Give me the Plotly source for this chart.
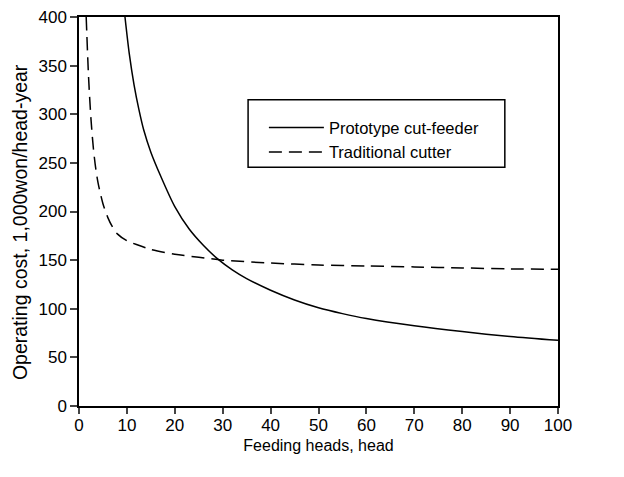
import plotly.graph_objects as go

# Prototype cut-feeder (solid)
proto_x = [9.6, 10.5, 11.5, 12.5, 13.5, 15, 17, 20, 23, 26, 29, 32, 35, 40, 45, 50, 55, 60, 70, 80, 90, 100]
proto_y = [400, 362, 330, 305, 284, 261, 237, 205, 182, 165, 151, 140, 131, 119, 109, 101, 95, 90, 82.5, 76.5, 71.5, 67.5]

# Traditional cutter (dashed)
trad_x = [1.5, 2, 2.5, 3, 3.5, 4, 5, 6, 7, 8, 10, 12, 15, 20, 25, 30, 40, 50, 60, 70, 80, 90, 100]
trad_y = [400, 338, 295, 265, 244, 229, 208, 194, 184, 177, 170, 166, 161, 156, 153, 150, 147, 145, 144, 143, 142, 141, 140.5]

x_ticks = [0, 10, 20, 30, 40, 50, 60, 70, 80, 90, 100]
y_ticks = [0, 50, 100, 150, 200, 250, 300, 350, 400]

x_title = "Feeding heads, head"
y_title = "Operating cost, 1,000won/head-year"

FONT = "Liberation Sans, Arial, sans-serif"

fig = go.Figure()
fig.add_trace(go.Scatter(x=proto_x, y=proto_y, mode="lines", name="Prototype cut-feeder",
                         line=dict(color="black", width=1.5, shape="spline", smoothing=0.8)))
fig.add_trace(go.Scatter(x=trad_x, y=trad_y, mode="lines", name="Traditional cutter",
                         line=dict(color="black", width=1.5, dash="13px,7px", shape="spline", smoothing=0.8)))

fig.update_layout(
    width=608, height=461,
    margin=dict(l=71, r=58, t=9, b=63, autoexpand=False),
    paper_bgcolor="white", plot_bgcolor="white",
    font=dict(family=FONT, size=17, color="black"),
    showlegend=True,
    legend=dict(x=0.386, y=0.76, xanchor="left", yanchor="top",
                bgcolor="rgba(0,0,0,0)", borderwidth=0,
                font=dict(size=16.5), itemwidth=55, tracegroupgap=0),
    shapes=[dict(type="rect", xref="paper", yref="paper",
                 x0=0.353, x1=0.889, y0=0.614, y1=0.787,
                 line=dict(color="black", width=1.5), fillcolor="rgba(0,0,0,0)")],
    annotations=[dict(text=y_title, textangle=-90, xref="paper", yref="paper",
                      x=-0.123, y=0.473, xanchor="center", yanchor="middle",
                      showarrow=False, font=dict(size=19.5))],
)
fig.update_xaxes(range=[0, 100], tickvals=x_ticks, ticks="outside", ticklen=6, tickwidth=1.5,
                 showline=True, linecolor="black", linewidth=1.5, mirror=True, showgrid=False,
                 zeroline=False, automargin=False, ticklabeloverflow="allow",
                 ticklabelstandoff=-3,
                 title=dict(text=x_title, standoff=6, font=dict(size=16)),
                 tickfont=dict(size=17))
fig.update_yaxes(range=[0, 400], tickvals=y_ticks, ticks="outside", ticklen=7, tickwidth=1.5,
                 showline=True, linecolor="black", linewidth=1.5, mirror=True, showgrid=False,
                 zeroline=False, automargin=False, ticklabeloverflow="allow",
                 tickfont=dict(size=17))

fig.write_html("out.html")
